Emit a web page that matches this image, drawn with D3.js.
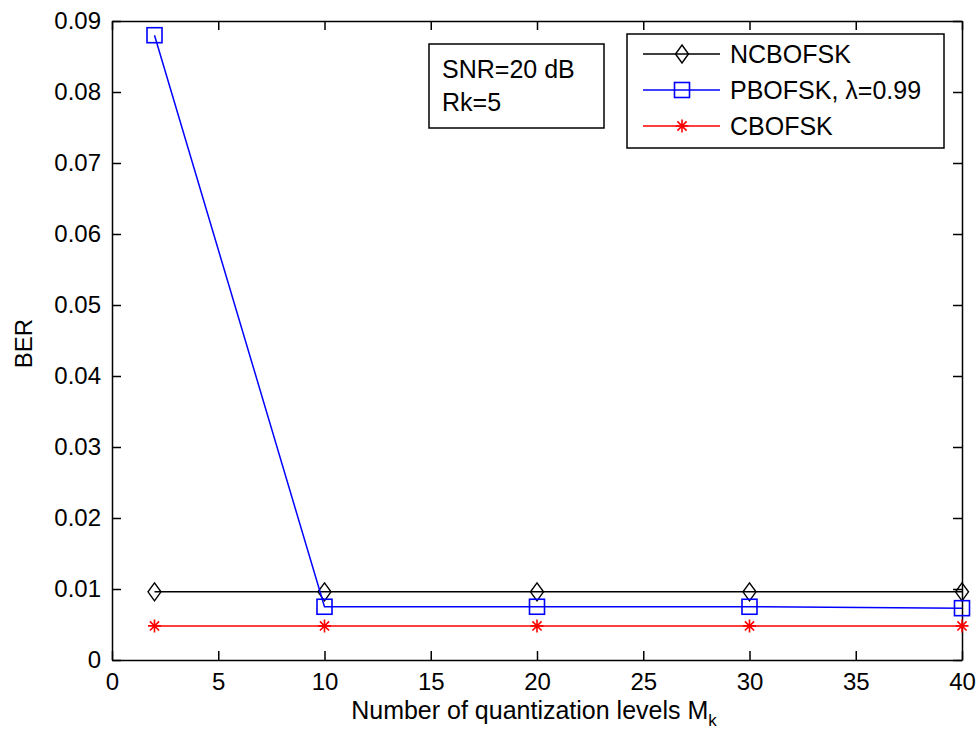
<!DOCTYPE html>
<html>
<head>
<meta charset="utf-8">
<script src="https://cdn.jsdelivr.net/npm/d3@7"></script>
<style>
  body { margin: 0; background: #fff; }
  svg text { font-family: "Liberation Sans", Arial, sans-serif; fill: #000; }
</style>
</head>
<body>
<div id="chart"></div>
<script>
// values
const levels = [2, 10, 20, 30, 40]
const ncbofsk = [0.0096, 0.0096, 0.0096, 0.0096, 0.0096]
const pbofsk = [0.088, 0.0075, 0.0075, 0.0075, 0.0073]
const cbofsk = [0.0048, 0.0048, 0.0048, 0.0048, 0.0048]

const xTicks = [0, 5, 10, 15, 20, 25, 30, 35, 40]
const yTicks = [0, 0.01, 0.02, 0.03, 0.04, 0.05, 0.06, 0.07, 0.08, 0.09]
const yTickLabels = ['0', '0.01', '0.02', '0.03', '0.04', '0.05', '0.06', '0.07', '0.08', '0.09']

const series = [
  { name: 'NCBOFSK', values: ncbofsk, color: '#000', marker: 'diamond' },
  { name: 'PBOFSK, λ=0.99', values: pbofsk, color: '#0000ff', marker: 'square' },
  { name: 'CBOFSK', values: cbofsk, color: '#ff0000', marker: 'star' }
]

const width = 980, height = 736
const margin = { top: 21, right: 18, bottom: 76, left: 112 }
const fontSize = 24

let svg = d3.select('#chart').append('svg')
  .attr('width', width)
  .attr('height', height)

let x = d3.scaleLinear().domain([0, 40]).range([margin.left, width - margin.right])
let y = d3.scaleLinear().domain([0, 0.09]).range([height - margin.bottom, margin.top])

const tickLen = 9

// frame + ticks on all four sides
let axes = svg.append('g')

axes.append('g')
  .attr('transform', `translate(0,${y(0)})`)
  .call(d3.axisBottom(x).tickValues(xTicks).tickSizeInner(-tickLen).tickSizeOuter(0).tickPadding(13))
axes.append('g')
  .attr('transform', `translate(0,${y(0.09)})`)
  .call(d3.axisTop(x).tickValues(xTicks).tickSizeInner(-tickLen).tickSizeOuter(0).tickFormat(''))
axes.append('g')
  .attr('transform', `translate(${x(0)},0)`)
  .call(d3.axisLeft(y).tickValues(yTicks).tickSizeInner(-tickLen).tickSizeOuter(0).tickPadding(11)
    .tickFormat((d, i) => yTickLabels[i]))
axes.append('g')
  .attr('transform', `translate(${x(40)},0)`)
  .call(d3.axisRight(y).tickValues(yTicks).tickSizeInner(-tickLen).tickSizeOuter(0).tickFormat(''))

axes.selectAll('.domain').attr('stroke', '#000').attr('stroke-width', 1.5)
axes.selectAll('.tick line').attr('stroke', '#000').attr('stroke-width', 1.5)
axes.selectAll('.tick text').style('font-size', fontSize + 'px').style('font-family', '"Liberation Sans", Arial, sans-serif')

// lines + markers
let line = d3.line()
  .x((d, i) => x(levels[i]))
  .y(d => y(d))

const drawMarker = (g, type, color) => {
  if (type === 'diamond') {
    g.append('path').attr('d', 'M0,-9L6.5,0L0,9L-6.5,0Z')
      .attr('fill', 'none').attr('stroke', color).attr('stroke-width', 1.4)
  } else if (type === 'square') {
    g.append('rect').attr('x', -7.5).attr('y', -7.5).attr('width', 15).attr('height', 15)
      .attr('fill', 'none').attr('stroke', color).attr('stroke-width', 1.6)
  } else {
    g.append('path').attr('d', 'M0,-6.5V6.5M-6.5,0H6.5M-4.6,-4.6L4.6,4.6M-4.6,4.6L4.6,-4.6')
      .attr('fill', 'none').attr('stroke', color).attr('stroke-width', 1.6)
  }
}

series.forEach(s => {
  let g = svg.append('g')
  g.append('path')
    .datum(s.values)
    .attr('d', line)
    .attr('fill', 'none')
    .attr('stroke', s.color)
    .attr('stroke-width', 1.5)
  g.selectAll('g.m')
    .data(s.values)
    .enter()
    .append('g')
    .attr('class', 'm')
    .attr('transform', (d, i) => `translate(${x(levels[i])},${y(d)})`)
    .each(function () { drawMarker(d3.select(this), s.marker, s.color) })
})

// legend
let legend = svg.append('g').attr('transform', 'translate(627,34)')
legend.append('rect')
  .attr('width', 317).attr('height', 114)
  .attr('fill', '#fff').attr('stroke', '#000').attr('stroke-width', 1.5)

series.forEach((s, i) => {
  let row = legend.append('g').attr('transform', `translate(0,${20 + i * 36})`)
  row.append('line').attr('x1', 16).attr('x2', 93).attr('y1', 0).attr('y2', 0)
    .attr('stroke', s.color).attr('stroke-width', 1.5)
  let m = row.append('g').attr('transform', 'translate(55,0)')
  drawMarker(m, s.marker, s.color)
  row.append('text').attr('x', 103).attr('y', 9)
    .style('font-size', '25px')
    .text(s.name)
})

// annotation box
let note = svg.append('g').attr('transform', 'translate(429,44)')
note.append('rect')
  .attr('width', 175).attr('height', 84)
  .attr('fill', '#fff').attr('stroke', '#000').attr('stroke-width', 1.5)
note.append('text').attr('x', 13).attr('y', 34).style('font-size', '25px').text('SNR=20 dB')
note.append('text').attr('x', 13).attr('y', 67).style('font-size', '25px').text('Rk=5')

// axis titles
let xl = svg.append('text')
  .attr('x', 534)
  .attr('y', 719)
  .attr('text-anchor', 'middle')
  .style('font-size', '25px')
xl.append('tspan').text('Number of quantization levels M')
xl.append('tspan').attr('dy', 7).style('font-size', '17px').text('k')

svg.append('text')
  .attr('transform', `translate(32,${(y(0) + y(0.09)) / 2 + 3}) rotate(-90)`)
  .attr('text-anchor', 'middle')
  .style('font-size', '24px')
  .text('BER')
</script>
</body>
</html>
